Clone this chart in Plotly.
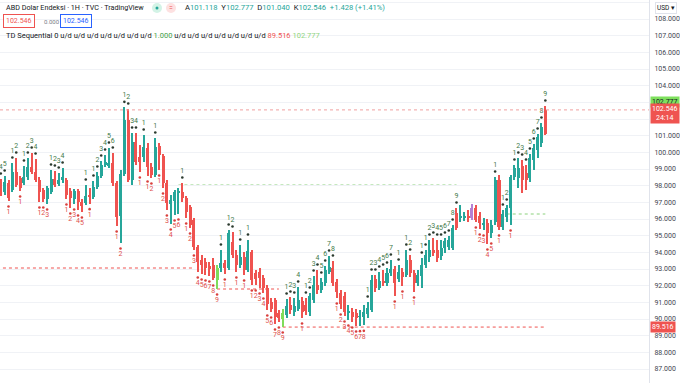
import plotly.graph_objects as go

# ---------------- data (hourly candles) ----------------
opens = [98.16, 97.62, 98.16, 97.74, 98.82, 98.46, 98.16, 98.52, 99.12, 98.82,
         98.34, 97.74, 97.20, 97.62, 98.40, 98.10, 98.34, 98.34, 97.68, 97.20,
         97.68, 97.02, 96.96, 97.44, 97.30, 97.92, 98.58, 99.24, 99.18, 99.36,
         98.16, 96.18, 98.70, 101.94, 98.34, 100.62, 99.72, 99.72, 100.26, 99.12,
         98.64, 100.38, 99.78, 98.16, 96.90, 97.08, 97.56, 97.62, 97.26, 96.72,
         95.94, 94.32, 93.54, 93.42, 93.18, 93.24, 92.34, 93.06, 93.36, 93.06,
         94.62, 93.84, 93.24, 93.72, 92.94, 94.02, 92.76, 92.82, 92.46, 91.86,
         91.02, 91.14, 90.36, 90.00, 90.24, 90.84, 90.42, 90.60, 91.08, 90.84,
         90.42, 91.14, 92.04, 91.74, 92.16, 92.82, 93.06, 92.22, 91.56, 91.38,
         90.36, 90.42, 90.36, 90.12, 90.12, 90.30, 90.54, 92.40, 91.86, 92.28,
         92.16, 92.76, 93.00, 92.40, 92.82, 92.64, 93.54, 92.76, 92.16, 92.58,
         93.24, 93.72, 94.14, 94.14, 93.78, 94.26, 94.32, 94.26, 95.46, 96.06,
         96.06, 96.18, 96.06, 96.66, 96.18, 95.64, 95.76, 95.16, 95.82, 98.34,
         95.52, 96.12, 96.66, 98.52, 98.46, 99.18, 98.76, 98.46, 99.54, 100.14,
         100.56, 101.118]
highs = [98.40, 98.58, 98.34, 99.36, 99.66, 98.58, 99.18, 99.66, 99.96, 99.60,
         98.52, 97.86, 97.98, 98.94, 98.88, 98.76, 99.06, 98.46, 97.86, 97.80,
         97.80, 97.20, 98.04, 97.86, 98.28, 98.82, 99.48, 99.84, 100.26, 99.96,
         98.28, 98.94, 102.70, 102.60, 101.16, 101.16, 100.44, 101.04, 100.56, 99.36,
         100.86, 100.56, 99.90, 98.34, 97.44, 97.74, 97.86, 98.16, 97.38, 96.84,
         96.06, 94.44, 93.84, 93.66, 93.42, 93.66, 93.24, 94.14, 93.54, 95.34,
         95.22, 94.14, 94.44, 94.02, 94.74, 94.14, 92.94, 93.06, 92.64, 92.04,
         91.26, 91.26, 90.54, 90.60, 91.20, 91.32, 91.26, 91.92, 91.32, 91.26,
         91.56, 92.58, 92.94, 92.46, 93.18, 93.78, 93.48, 92.40, 91.74, 91.62,
         90.84, 90.66, 90.60, 90.54, 90.84, 91.02, 92.64, 92.64, 92.82, 92.94,
         93.06, 93.54, 93.18, 93.24, 93.06, 94.14, 93.84, 92.94, 92.94, 93.66,
         94.14, 94.74, 94.86, 94.74, 94.74, 94.86, 94.98, 95.64, 96.66, 96.84,
         96.42, 96.54, 96.90, 96.84, 96.42, 96.06, 96.00, 95.94, 98.52, 98.64,
         96.54, 96.84, 98.64, 99.24, 99.66, 99.54, 99.24, 99.90, 100.50, 101.10,
         101.76, 102.777]
lows = [97.38, 97.44, 97.08, 97.62, 97.92, 97.68, 98.04, 98.34, 98.70, 98.22,
        97.02, 97.02, 96.90, 97.50, 97.92, 97.98, 98.16, 97.20, 96.66, 96.90,
        96.54, 96.42, 96.84, 96.92, 97.20, 97.80, 98.46, 99.12, 99.06, 97.98,
        95.58, 94.56, 98.58, 98.22, 98.04, 99.24, 98.82, 99.42, 98.58, 98.46,
        98.52, 98.94, 97.86, 96.54, 95.70, 96.24, 96.30, 97.02, 96.06, 95.46,
        94.14, 92.82, 92.70, 92.64, 92.58, 92.34, 91.80, 92.82, 92.70, 92.94,
        93.66, 92.82, 93.06, 92.64, 92.82, 92.04, 92.04, 91.86, 91.56, 90.54,
        90.42, 89.70, 89.82, 89.516, 90.06, 90.30, 90.18, 90.48, 90.06, 90.24,
        90.18, 90.96, 91.50, 91.56, 91.98, 92.70, 91.98, 91.26, 90.60, 90.18,
        89.94, 89.82, 89.58, 89.60, 89.62, 90.06, 90.42, 91.62, 91.74, 91.98,
        91.98, 92.58, 91.38, 92.22, 91.98, 92.52, 92.52, 91.62, 91.98, 91.86,
        93.06, 93.42, 93.78, 93.42, 93.54, 93.96, 94.14, 94.14, 95.34, 95.82,
        95.88, 95.82, 95.94, 95.82, 95.40, 95.34, 94.50, 94.86, 95.64, 95.34,
        95.34, 95.82, 95.64, 98.34, 97.86, 97.56, 97.74, 98.22, 98.94, 99.66,
        100.32, 101.04]
closes = [97.56, 98.22, 97.26, 98.82, 98.04, 97.86, 98.52, 99.12, 98.82, 98.34,
          97.62, 97.20, 97.86, 98.40, 98.04, 98.34, 98.52, 97.44, 97.26, 97.68,
          97.02, 96.78, 97.38, 97.30, 97.92, 98.58, 99.24, 99.42, 99.36, 98.16,
          96.12, 98.70, 101.94, 98.34, 100.62, 99.42, 99.42, 100.32, 99.12, 98.64,
          100.32, 99.84, 98.16, 96.96, 97.14, 97.62, 97.68, 97.26, 96.42, 95.64,
          94.32, 93.42, 93.24, 93.06, 93.02, 92.46, 93.06, 93.36, 93.06, 95.16,
          93.84, 93.24, 93.72, 92.94, 94.08, 92.34, 92.40, 92.46, 91.86, 90.90,
          90.60, 90.12, 90.06, 90.36, 90.78, 90.54, 90.78, 91.14, 90.42, 90.48,
          91.38, 92.04, 91.74, 92.22, 92.94, 93.12, 92.16, 91.62, 90.90, 90.42,
          90.48, 90.12, 90.06, 90.18, 90.42, 90.66, 92.34, 91.86, 92.28, 92.16,
          92.76, 93.00, 92.16, 92.82, 92.52, 93.54, 92.76, 92.16, 92.64, 93.24,
          93.84, 94.14, 93.96, 93.66, 94.26, 94.68, 94.74, 95.46, 96.36, 96.15,
          96.18, 96.06, 96.66, 95.94, 95.76, 95.76, 95.16, 95.64, 98.34, 95.52,
          96.30, 96.66, 98.52, 99.06, 99.06, 98.34, 98.34, 99.66, 100.26, 100.92,
          101.52, 102.546]

# TD Sequential setup counts (above = green counts, below = red counts)
setup_above = ["4", "5", "", "1", "2", "", "1", "2", "3", "4",
               "", "", "", "1", "2", "3", "4", "", "", "",
               "", "", "1", "", "1", "2", "3", "4", "5", "6",
               "", "", "1", "2", "3", "4", "", "1", "", "",
               "1", "", "", "", "", "", "", "1", "", "",
               "", "", "", "", "", "", "", "1", "", "1",
               "2", "", "1", "", "1", "", "", "", "", "",
               "", "", "", "", "1", "2", "3", "4", "", "1",
               "2", "3", "4", "5", "6", "7", "8", "", "", "",
               "", "", "", "", "", "1", "2", "3", "4", "5",
               "6", "7", "", "1", "", "1", "2", "", "", "1",
               "1", "2", "3", "4", "5", "6", "7", "8", "9", "",
               "", "", "", "", "", "", "", "", "1", "",
               "1", "2", "", "1", "2", "3", "4", "5", "6", "7",
               "8", "9"]
setup_below = ["", "", "1", "", "", "1", "", "", "", "",
               "1", "2", "3", "", "", "", "", "1", "2", "3",
               "4", "5", "", "1", "", "", "", "", "", "",
               "1", "2", "", "", "", "", "1", "", "1", "2",
               "", "1", "2", "3", "4", "5", "6", "", "1", "2",
               "3", "4", "5", "6", "7", "8", "9", "", "1", "",
               "", "1", "", "1", "", "1", "2", "3", "4", "5",
               "6", "7", "8", "9", "", "", "", "", "1", "",
               "", "", "", "", "", "", "", "1", "2", "3",
               "4", "5", "6", "7", "8", "", "", "", "", "",
               "", "", "1", "", "1", "", "", "1", "", "",
               "", "", "", "", "", "", "", "", "", "",
               "", "", "", "1", "2", "3", "4", "5", "", "1",
               "", "", "1", "", "", "", "", "", "", "",
               "", ""]
# bars recoloured by the indicator
bar_highlight = {56: "lime", 73: "lime", 118: "red", 122: "purple", 141: "red"}

# TD support / resistance levels: value, first bar, last bar, kind
td_level_value = [93.06, 91.80, 89.516, 98.04, 96.30]
td_level_start = [-1, 56, 73, 46, 131]
td_level_end = [50, 72, 141, 118, 141]
td_level_kind = ["support", "support", "support", "resistance", "resistance"]

last_price = 102.546
td_resistance_now = 102.777
td_support_now = 89.516
tick_values = list(range(87, 110))
# 102 and 103 sit under the price badges and are not shown
tick_labels = ["" if v in (102, 103) else "%.3f" % v for v in tick_values]

# ---------------- styling ----------------
UP, DOWN = "#26a69a", "#ef5350"
HL = {"lime": "#7fdc5a", "red": "#ef5350", "purple": "#b57fd3"}
W, H = 680, 383
PLOT_W = 649
Y_MIN, Y_MAX = 86.16, 109.14
X_MIN = -0.207
X_MAX = X_MIN + PLOT_W / 3.862
px_per_unit = H / (Y_MAX - Y_MIN)

n = len(closes)
idx = list(range(n))
colors = []
for i in idx:
    if i in bar_highlight:
        colors.append(HL[bar_highlight[i]])
    else:
        colors.append(UP if closes[i] >= opens[i] else DOWN)

fig = go.Figure()
# wicks
fig.add_bar(x=idx, y=[h - l for h, l in zip(highs, lows)], base=lows, width=0.27,
            marker=dict(color=colors, line=dict(width=0)), hoverinfo="skip")
# bodies
fig.add_bar(x=idx, y=[max(abs(c - o), 0.05) for o, c in zip(opens, closes)],
            base=[min(o, c) for o, c in zip(opens, closes)], width=0.78,
            marker=dict(color=colors, line=dict(width=0)), hoverinfo="skip")

# TD setup numbers
dot_off = 5.5 / px_per_unit
ax_i = [i for i in idx if setup_above[i]]
fig.add_scatter(x=ax_i, y=[highs[i] + dot_off for i in ax_i], mode="markers+text",
                text=[setup_above[i] for i in ax_i], textposition="top center",
                textfont=dict(size=7, color="#3f7a4a", family="Roboto"),
                marker=dict(size=2.6, color="#2b3a2e"), cliponaxis=False, hoverinfo="skip")
bx_i = [i for i in idx if setup_below[i]]
fig.add_scatter(x=bx_i, y=[lows[i] - dot_off for i in bx_i], mode="markers+text",
                text=[setup_below[i] for i in bx_i], textposition="bottom center",
                textfont=dict(size=7, color="#e0504d", family="Roboto"),
                marker=dict(size=2.6, color="#d9403d"), cliponaxis=False, hoverinfo="skip")

shapes = []
for v, s, e, k in zip(td_level_value, td_level_start, td_level_end, td_level_kind):
    shapes.append(dict(type="line", xref="x", yref="y", x0=s, x1=e, y0=v, y1=v,
                       line=dict(color="#ef5350" if k == "support" else "#8bd17c",
                                 width=1, dash="dot"), layer="below"))
# last price line
shapes.append(dict(type="line", xref="paper", yref="y", x0=0, x1=1, y0=last_price, y1=last_price,
                   line=dict(color="#f0a0a0", width=1, dash="dot")))

def px(x):
    return x / PLOT_W

def py(y):
    return 1 - y / H

ann = []
FONT = "Roboto"
ann.append(dict(xref="paper", yref="paper", x=px(4), y=py(8), xanchor="left", yanchor="middle",
                text="ABD Dolar Endeksi · 1H · TVC · TradingView", showarrow=False,
                font=dict(size=7.2, color="#131722", family=FONT)))
g = "#26a69a"
sp = "&nbsp;"
ann.append(dict(xref="paper", yref="paper", x=px(183), y=py(8), xanchor="left", yanchor="middle",
                text=("A<span style='color:%s'>101.118</span>%sY<span style='color:%s'>102.777</span>%s"
                      "D<span style='color:%s'>101.040</span>%sK<span style='color:%s'>102.546</span>%s"
                      "<span style='color:%s'>+1.428 (+1.41%%)</span>") % (g, sp * 2, g, sp * 2, g, sp * 2,
                                                                          g, sp * 2, g),
                showarrow=False, font=dict(size=7.6, color="#131722", family=FONT)))
ann.append(dict(xref="paper", yref="paper", x=px(3), y=py(21), xanchor="left", yanchor="middle",
                text="102.546", showarrow=False, bordercolor="#ef5350", borderwidth=1, borderpad=2,
                bgcolor="white", font=dict(size=7, color="#ef5350", family=FONT)))
ann.append(dict(xref="paper", yref="paper", x=px(42), y=py(21), xanchor="left", yanchor="middle",
                text="0.000", showarrow=False, font=dict(size=6, color="#787b86", family=FONT)))
ann.append(dict(xref="paper", yref="paper", x=px(60), y=py(21), xanchor="left", yanchor="middle",
                text="102.546", showarrow=False, bordercolor="#2962ff", borderwidth=1, borderpad=2,
                bgcolor="white", font=dict(size=7, color="#2962ff", family=FONT)))
ud = " ".join(["u/d"] * 7)
ann.append(dict(xref="paper", yref="paper", x=px(4), y=py(35), xanchor="left", yanchor="middle",
                text=("TD Sequential 0 " + ud + " <span style='color:#43a047'>1.000</span> " + ud +
                      " <span style='color:#ef5350'>89.516</span> <span style='color:#8fd47f'>102.777</span>"),
                showarrow=False, font=dict(size=7.5, color="#131722", family=FONT)))
# axis badges
ann.append(dict(xref="paper", yref="y", x=1, y=td_resistance_now, xanchor="left", yanchor="middle",
                xshift=1, yshift=4, text="102.777", showarrow=False, bgcolor="#7ee05d", borderpad=1,
                font=dict(size=7, color="#131722", family=FONT)))
ann.append(dict(xref="paper", yref="y", x=1, y=last_price, xanchor="left", yanchor="middle",
                xshift=1, yshift=-4, text="102.546<br>24:14", showarrow=False, bgcolor="#ef5350",
                borderpad=1, font=dict(size=7, color="white", family=FONT)))
ann.append(dict(xref="paper", yref="y", x=1, y=td_support_now, xanchor="left", yanchor="middle",
                xshift=1, text="89.516", showarrow=False, bgcolor="#ef5350", borderpad=1,
                font=dict(size=7, color="white", family=FONT)))
ann.append(dict(xref="paper", yref="paper", x=1, y=py(7.5), xanchor="left", yanchor="middle",
                xshift=6, text="USD ▾", showarrow=False, bgcolor="white", bordercolor="#e0e3eb",
                borderwidth=1, borderpad=1, font=dict(size=6.5, color="#131722", family=FONT)))

# header icons
shapes.append(dict(type="circle", xref="paper", yref="paper", x0=px(152), x1=px(162),
                   y0=py(13), y1=py(3), fillcolor="#d3f3e6", line=dict(width=0)))
shapes.append(dict(type="circle", xref="paper", yref="paper", x0=px(155.5), x1=px(158.5),
                   y0=py(9.5), y1=py(6.5), fillcolor="#26a69a", line=dict(width=0)))
shapes.append(dict(type="circle", xref="paper", yref="paper", x0=px(166), x1=px(176),
                   y0=py(13), y1=py(3), fillcolor="#fde1e1", line=dict(width=0)))
ann.append(dict(xref="paper", yref="paper", x=px(171), y=py(8), xanchor="center", yanchor="middle",
                text="=", showarrow=False, font=dict(size=7, color="#ef5350", family=FONT)))

fig.update_layout(
    width=W, height=H, margin=dict(l=0, r=W - PLOT_W, t=0, b=0, autoexpand=False),
    paper_bgcolor="white", plot_bgcolor="white", barmode="overlay", bargap=0,
    showlegend=False, shapes=shapes, annotations=ann,
    xaxis=dict(range=[X_MIN, X_MAX], showgrid=False, zeroline=False, showticklabels=False,
               fixedrange=True),
    yaxis=dict(range=[Y_MIN, Y_MAX], side="right", tickvals=tick_values, ticktext=tick_labels,
               tickfont=dict(size=7, color="#434651", family=FONT), showgrid=True,
               gridcolor="#f0f2f6", gridwidth=1, zeroline=False, showline=True,
               linecolor="#e0e3eb", ticks="", ticklabelstandoff=3, fixedrange=True,
               automargin=False),
)
fig.write_html("out.html", config={"displayModeBar": False},
               post_script="document.body.style.margin='0';document.body.style.padding='0';"
                           "document.body.style.overflow='hidden';")
